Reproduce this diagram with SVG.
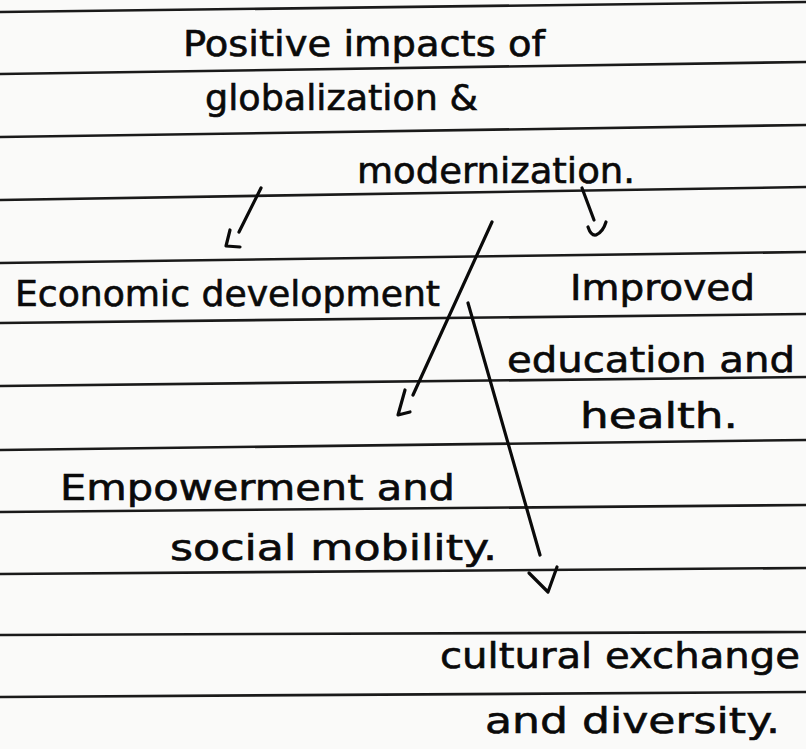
<svg xmlns="http://www.w3.org/2000/svg" width="806" height="749" viewBox="0 0 806 749">
  <style>
    .paper { fill: #fafaf9; }
    .rule { stroke: #1a1a1a; stroke-width: 2.6; fill: none; }
    .ink { stroke: #0a0a0a; stroke-width: 3.2; fill: none; stroke-linecap: round; stroke-linejoin: round; }
    .label { font-family: "DejaVu Sans", "Liberation Sans", sans-serif; font-size: 35px; fill: #0a0a0a; stroke: #0a0a0a; stroke-width: 0.6; }
  </style>

  <!-- ruled notebook paper -->
  <rect class="paper" x="0" y="0" width="806" height="749"/>
  <g id="rules">
    <line class="rule" x1="0" y1="12" x2="806" y2="2"/>
    <line class="rule" x1="0" y1="74" x2="806" y2="62"/>
    <line class="rule" x1="0" y1="137" x2="806" y2="125"/>
    <line class="rule" x1="0" y1="200" x2="806" y2="187"/>
    <line class="rule" x1="0" y1="263" x2="806" y2="252"/>
    <line class="rule" x1="0" y1="323" x2="806" y2="314"/>
    <line class="rule" x1="0" y1="386" x2="806" y2="377"/>
    <line class="rule" x1="0" y1="450" x2="806" y2="440"/>
    <line class="rule" x1="0" y1="512" x2="806" y2="505"/>
    <line class="rule" x1="0" y1="574" x2="806" y2="568"/>
    <line class="rule" x1="0" y1="635" x2="806" y2="632"/>
    <line class="rule" x1="0" y1="697" x2="806" y2="692"/>
  </g>

  <!-- title node -->
  <g id="title">
    <text class="label" x="183" y="56" textLength="362" lengthAdjust="spacingAndGlyphs">Positive impacts of</text>
    <text class="label" x="205" y="110" textLength="273" lengthAdjust="spacingAndGlyphs">globalization &amp;</text>
    <text class="label" x="357" y="183" textLength="278" lengthAdjust="spacingAndGlyphs">modernization.</text>
  </g>

  <g id="economic">
    <text class="label" x="15" y="306" textLength="425" lengthAdjust="spacingAndGlyphs">Economic development</text>
  </g>

  <g id="education">
    <text class="label" x="570" y="300" textLength="185" lengthAdjust="spacingAndGlyphs">Improved</text>
    <text class="label" x="507" y="372" textLength="288" lengthAdjust="spacingAndGlyphs">education and</text>
    <text class="label" x="580" y="428" textLength="158" lengthAdjust="spacingAndGlyphs">health.</text>
  </g>

  <g id="empowerment">
    <text class="label" x="60" y="500" textLength="395" lengthAdjust="spacingAndGlyphs">Empowerment and</text>
    <text class="label" x="170" y="560" textLength="327" lengthAdjust="spacingAndGlyphs">social mobility.</text>
  </g>

  <g id="culture">
    <text class="label" x="440" y="668" textLength="360" lengthAdjust="spacingAndGlyphs">cultural exchange</text>
    <text class="label" x="485" y="733" textLength="295" lengthAdjust="spacingAndGlyphs">and diversity.</text>
  </g>

  <!-- hand-drawn arrows -->
  <g id="connectors">
    <!-- to economic development -->
    <path class="ink" d="M261,188 L239,232"/>
    <path class="ink" d="M230,230 L226,246 L240,247"/>
    <!-- to improved education and health -->
    <path class="ink" d="M582,188 L594,220"/>
    <path class="ink" d="M588,227 Q591,236 596,235 Q603,232 606,222"/>
    <!-- to empowerment and social mobility -->
    <path class="ink" d="M492,222 L413,395"/>
    <path class="ink" d="M405,390 L398,415 L410,412"/>
    <!-- to cultural exchange and diversity -->
    <path class="ink" d="M468,303 L540,555"/>
    <path class="ink" d="M529,573 L548,592 L557,567"/>
  </g>
</svg>
